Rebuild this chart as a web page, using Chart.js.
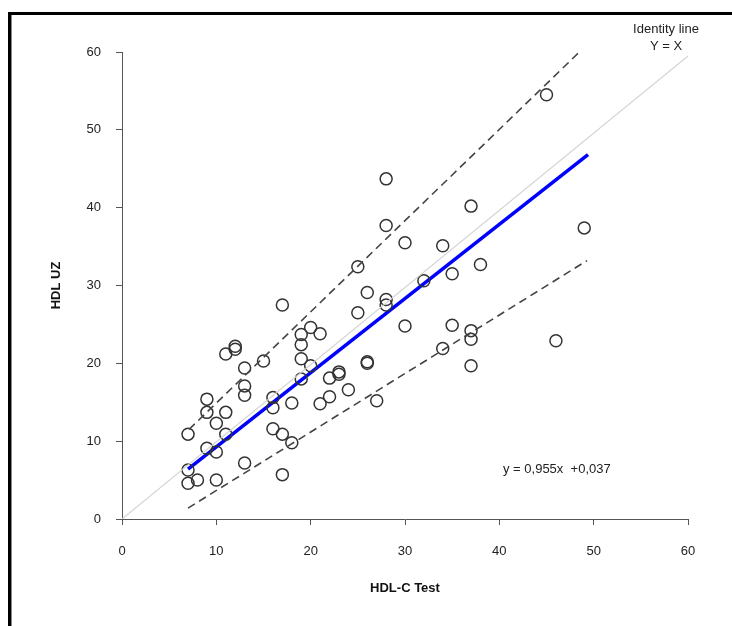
<!DOCTYPE html>
<html>
<head>
<meta charset="utf-8">
<script src="https://cdn.jsdelivr.net/npm/chart.js@4"></script>
<style>
  html, body { margin: 0; padding: 0; background: #fff; }
  #wrap { width: 732px; height: 626px; position: relative; }
</style>
</head>
<body>
<div id="wrap"><canvas id="hdlChart" width="732" height="626"></canvas></div>
<script>
// ---- data ----
const testX = [7, 7, 7, 8, 9, 9, 9, 10, 10, 10, 11, 11, 11, 12, 12, 13, 13, 13, 13, 15,
    16, 16, 16, 17, 17, 17, 18, 18, 19, 19, 19, 19, 20, 20, 21, 21, 22, 22, 23, 23,
    24, 25, 25, 26, 26, 26, 27, 28, 28, 28, 28, 30, 30, 32, 34, 34, 35, 35, 37, 37,
    37, 37, 38, 45, 46, 49];
const uzY = [10.9, 6.3, 4.6, 5.0, 15.4, 13.7, 9.1, 12.3, 8.6, 5.0, 13.7, 10.9, 21.2, 22.2, 21.8, 19.4, 17.1, 15.9, 7.2, 20.3,
    15.6, 14.3, 11.6, 27.5, 10.9, 5.7, 14.9, 9.8, 23.7, 22.4, 20.6, 18.0, 24.6, 19.7, 23.8, 14.8, 18.1, 15.7, 18.9, 18.6,
    16.6, 32.4, 26.5, 29.1, 20.2, 20.0, 15.2, 43.7, 37.7, 28.2, 27.5, 35.5, 24.8, 30.6, 35.1, 21.9, 31.5, 24.9, 40.2, 24.2,
    23.1, 19.7, 32.7, 54.5, 22.9, 37.4];

const identityLine = [{ x: 0, y: 0 }, { x: 60, y: 59.5 }];
const fitLine = [{ x: 7, y: 6.4 }, { x: 49.4, y: 46.8 }];
const upperBand = [{ x: 7.1, y: 11.5 }, { x: 49, y: 60.6 }];
const lowerBand = [{ x: 7, y: 1.4 }, { x: 49.3, y: 33.2 }];

const axisTicks = [0, 10, 20, 30, 40, 50, 60];
const xTitle = "HDL-C Test";
const yTitle = "HDL UZ";
const equationText = "y = 0,955x  +0,037";
const identityText = ["Identity line", "Y = X"];

const FONT = "'Liberation Sans', Arial, sans-serif";

// ---- frame, titles and notes ----
const decorPlugin = {
    id: 'decor',
    afterDraw(chart) {
        const ctx = chart.ctx;
        const xs = chart.scales.x, ys = chart.scales.y;
        ctx.save();
        // black frame (left + top)
        ctx.fillStyle = '#000';
        ctx.fillRect(8, 12, 3, 626 - 12);
        ctx.fillRect(8, 12, 732 - 8, 3);
        ctx.fillStyle = '#888';
        ctx.fillRect(11, 15, 1, 626 - 15);

        ctx.fillStyle = '#111';
        ctx.font = "bold 13px " + FONT;
        ctx.textAlign = 'center';
        ctx.textBaseline = 'middle';
        ctx.fillText(xTitle, (xs.left + xs.right) / 2, 588);

        ctx.save();
        ctx.translate(56, (ys.top + ys.bottom) / 2);
        ctx.rotate(-Math.PI / 2);
        ctx.fillText(yTitle, 0, 0);
        ctx.restore();

        ctx.font = "13px " + FONT;
        ctx.fillStyle = '#222';
        ctx.fillText(identityText[0], 666, 29);
        ctx.fillText(identityText[1], 666, 46);

        ctx.textAlign = 'left';
        ctx.fillText(equationText, 503, 469);
        ctx.restore();
    }
};

const axisCommon = {
    type: 'linear',
    min: 0,
    max: 60,
    afterBuildTicks: axis => { axis.ticks = axisTicks.map(v => ({ value: v })); },
    grid: { drawOnChartArea: false, drawTicks: true, tickLength: 6, color: '#555', lineWidth: 1 },
    border: { color: '#555', width: 1 },
    ticks: { color: '#222', font: { family: FONT, size: 13 } }
};

new Chart(document.getElementById('hdlChart').getContext('2d'), {
    type: 'scatter',
    data: {
        datasets: [
            {
                type: 'line', data: identityLine, borderColor: '#d4d4d4', borderWidth: 1.2,
                pointRadius: 0, fill: false
            },
            {
                type: 'line', data: upperBand, borderColor: '#444', borderWidth: 1.6,
                borderDash: [8, 5], pointRadius: 0, fill: false
            },
            {
                type: 'line', data: lowerBand, borderColor: '#444', borderWidth: 1.6,
                borderDash: [8, 5], pointRadius: 0, fill: false
            },
            {
                data: testX.map((x, i) => ({ x: x, y: uzY[i] })),
                pointRadius: 6, pointBorderWidth: 1.5, pointBorderColor: '#333',
                pointBackgroundColor: 'rgba(255,255,255,0)'
            },
            {
                type: 'line', data: fitLine, borderColor: '#0000ff', borderWidth: 3.5,
                pointRadius: 0, fill: false
            }
        ]
    },
    options: {
        responsive: false,
        animation: false,
        layout: { padding: { left: 0, right: 44, top: 52, bottom: 0 } },
        plugins: { legend: { display: false }, tooltip: { enabled: false } },
        scales: {
            x: Object.assign({}, axisCommon, {
                position: 'bottom',
                clip: false,
                ticks: Object.assign({}, axisCommon.ticks, { padding: 19, maxRotation: 0 }),
                afterFit: s => { s.height = 107; }
            }),
            y: Object.assign({}, axisCommon, {
                position: 'left',
                ticks: Object.assign({}, axisCommon.ticks, { padding: 15 }),
                afterFit: s => { s.width = 122; }
            })
        }
    },
    plugins: [decorPlugin]
});
</script>
</body>
</html>
